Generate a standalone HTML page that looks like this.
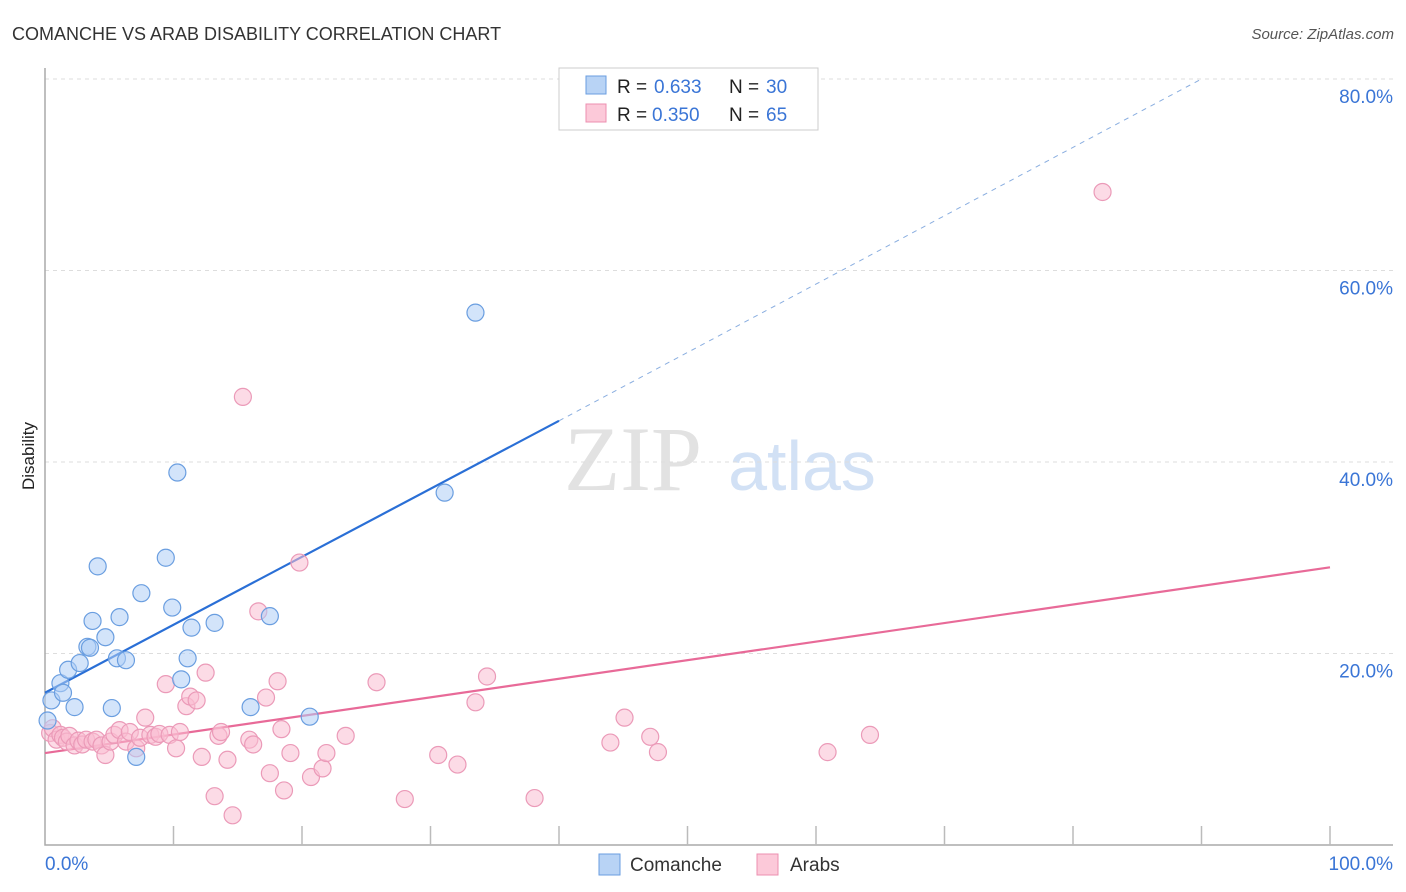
<!DOCTYPE html>
<html><head><meta charset="utf-8"><style>
body{margin:0;background:#fff;font-family:"Liberation Sans",sans-serif}
svg{display:block}
</style></head><body>
<svg id="c" width="1406" height="892">
<text x="12" y="40" font-size="18" fill="#333">COMANCHE VS ARAB DISABILITY CORRELATION CHART</text>
<text x="1394" y="39" font-size="15" fill="#555" font-style="italic" text-anchor="end">Source: ZipAtlas.com</text>
<text x="34" y="456" font-size="17" fill="#222" text-anchor="middle" transform="rotate(-90 34 456)">Disability</text>
<g><text x="633" y="490" font-size="92" font-family="Liberation Serif" fill="#e2e2e2" text-anchor="middle">ZIP</text><text x="802" y="490" font-size="70" fill="#d2e1f5" text-anchor="middle">atlas</text></g>
<g id="grid"></g><g id="axes"></g><g id="lines"></g><g id="pts"></g>
<g>
<rect x="559" y="68" width="259" height="62" fill="#fff" stroke="#ccc"/>
<rect x="586" y="76" width="20" height="18" fill="#b8d3f5" stroke="#6a9ee0"/>
<rect x="586" y="104" width="20" height="18" fill="#fcc9d9" stroke="#ec8fb0"/>
<text x="617" y="93" font-size="19" fill="#222">R =</text>
<text x="654" y="93" font-size="19" fill="#3a75d6">0.633</text>
<text x="729" y="93" font-size="19" fill="#222">N =</text>
<text x="766" y="93" font-size="19" fill="#3a75d6">30</text>
<text x="617" y="121" font-size="19" fill="#222">R =</text>
<text x="652" y="121" font-size="19" fill="#3a75d6">0.350</text>
<text x="729" y="121" font-size="19" fill="#222">N =</text>
<text x="766" y="121" font-size="19" fill="#3a75d6">65</text>
</g>
<g>
<rect x="599" y="854" width="21" height="21" fill="#b8d3f5" stroke="#6a9ee0"/>
<text x="630" y="871" font-size="19" fill="#333">Comanche</text>
<rect x="757" y="854" width="21" height="21" fill="#fcc9d9" stroke="#ec8fb0"/>
<text x="790" y="871" font-size="19" fill="#333">Arabs</text>
</g>
</svg>
<script>
const yTicks=[20,40,60,80];
const yTickLabels=["20.0%","40.0%","60.0%","80.0%"];
const blueX=[0.5,0.2,1.2,1.4,1.8,2.3,2.7,3.3,3.5,3.7,4.1,4.7,5.2,5.6,5.8,6.3,7.1,7.5,9.4,9.9,10.3,10.6,11.1,11.4,13.2,16.0,17.5,20.6,31.1,33.5];
const blueY=[15.1,13.0,16.9,15.9,18.3,14.4,19.0,20.7,20.6,23.4,29.1,21.7,14.3,19.5,23.8,19.3,9.2,26.3,30.0,24.8,38.9,17.3,19.5,22.7,23.2,14.4,23.9,13.4,36.8,55.6];
const pinkX=[0.4,0.6,0.9,1.2,1.4,1.7,1.9,2.3,2.6,2.9,3.2,3.7,4.0,4.4,4.7,5.1,5.4,5.8,6.3,6.6,7.1,7.4,7.8,8.2,8.6,8.9,9.4,9.7,10.2,10.5,11.0,11.3,11.8,12.2,12.5,13.2,13.5,13.7,14.2,14.6,15.4,15.9,16.2,16.6,17.2,17.5,18.1,18.4,18.6,19.1,19.8,20.7,21.6,21.9,23.4,25.8,28.0,30.6,32.1,33.5,34.4,38.1,44.0,45.1,47.1,47.7,60.9,64.2,82.3];
const pinkY=[11.7,12.2,11.0,11.5,11.2,10.8,11.4,10.4,10.9,10.5,11.0,10.8,11.0,10.4,9.4,10.8,11.5,12.0,10.8,11.8,10.1,11.2,13.3,11.5,11.3,11.6,16.8,11.5,10.1,11.8,14.5,15.5,15.1,9.2,18.0,5.1,11.4,11.8,8.9,3.1,46.8,11.0,10.5,24.4,15.4,7.5,17.1,12.1,5.7,9.6,29.5,7.1,8.0,9.6,11.4,17.0,4.8,9.4,8.4,14.9,17.6,4.9,10.7,13.3,11.3,9.7,9.7,11.5,68.2];
const blueTrend=[[0,15.9],[40,44.3]];
const blueDash=[[40,44.3],[90,80]];
const pinkTrend=[[0,9.6],[100,29.0]];
const NS="http://www.w3.org/2000/svg";
const X=v=>45+v*12.85, Y=v=>845-v*9.575;
function mk(p,t,a){const e=document.createElementNS(NS,t);for(const k in a)e.setAttribute(k,a[k]);document.getElementById(p).appendChild(e);return e;}
yTicks.forEach((t,i)=>{
 const g=mk('grid','line',{x1:45,x2:1393,y1:Y(t),y2:Y(t),stroke:'#ddd','stroke-dasharray':'4 4'});
 
 
 const l=mk('grid','text',{x:1393,y:Y(t)+24,'font-size':19,fill:'#3a75d6','text-anchor':'end'});
 l.textContent=yTickLabels[i];
 
 
});
const ax=mk('axes','path',{d:'M45 68V845H1393',fill:'none',stroke:'#aaa','stroke-width':1.5});


for(let i=1;i<=10;i++){const t=mk('axes','line',{x1:X(i*10),x2:X(i*10),y1:826,y2:845,stroke:'#bbb','stroke-width':1.5});
 
 }
const x0=mk('axes','text',{x:45,y:870,'font-size':19,fill:'#3a75d6'});x0.textContent='0.0%';


const x1=mk('axes','text',{x:1393,y:870,'font-size':19,fill:'#3a75d6','text-anchor':'end'});x1.textContent='100.0%';


function ln(p,c,w,d,n){const e=mk('lines','line',{x1:X(p[0][0]),y1:Y(p[0][1]),x2:X(p[1][0]),y2:Y(p[1][1]),stroke:c,'stroke-width':w});if(d)e.setAttribute('stroke-dasharray',d);
 
 }
ln(blueTrend,'#2a6fd6',2.2,null,'comanche-trend-line');
ln(blueDash,'#8aaee0',1,'5 5','comanche-trend-extension');
ln(pinkTrend,'#e86a98',2.2,null,'arabs-trend-line');
pinkX.forEach((v,i)=>{const c=mk('pts','circle',{cx:X(v),cy:Y(pinkY[i]),r:8.5,fill:'rgba(250,190,210,0.55)',stroke:'#eb9ab8','stroke-width':1.2});
 
 });
blueX.forEach((v,i)=>{const c=mk('pts','circle',{cx:X(v),cy:Y(blueY[i]),r:8.5,fill:'rgba(175,205,245,0.55)',stroke:'#6a9ee0','stroke-width':1.2});
 
 });
</script>
</body></html>
